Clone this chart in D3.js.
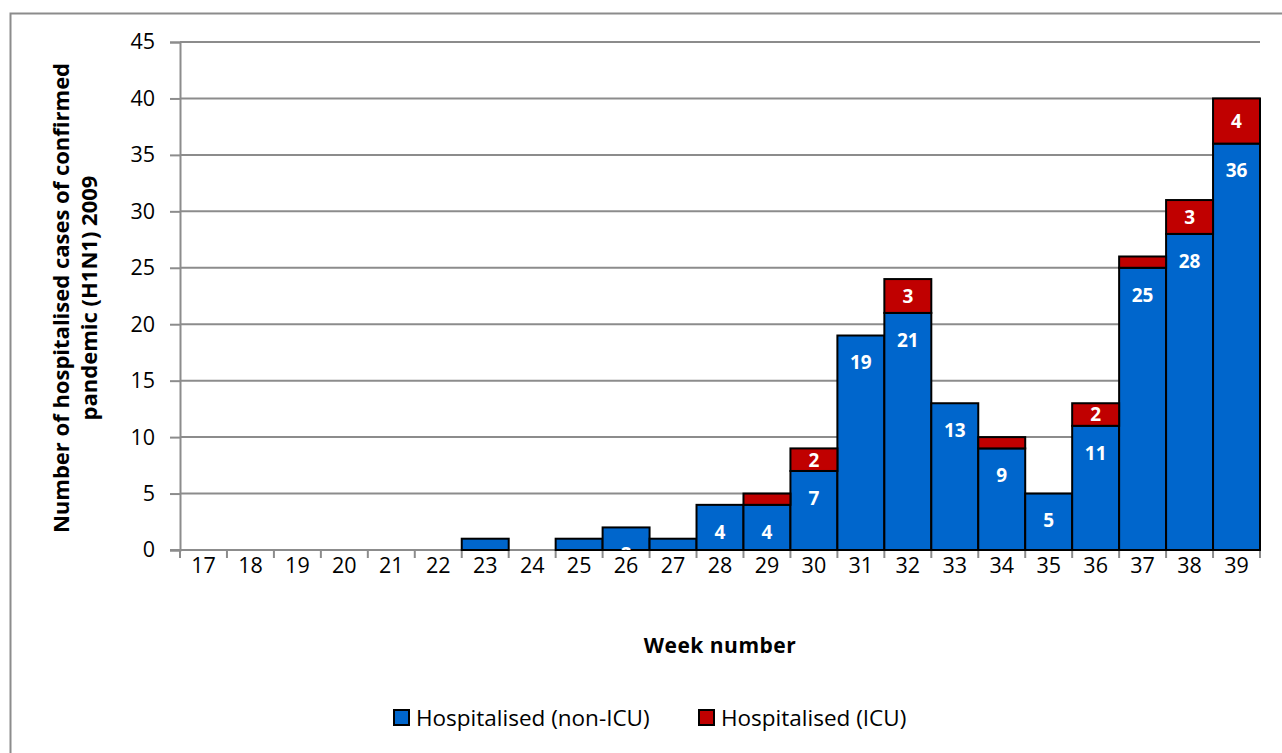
<!DOCTYPE html>
<html>
<head>
<meta charset="utf-8">
<script src="https://cdn.jsdelivr.net/npm/d3@7"></script>
<style>
  html, body { margin: 0; padding: 0; background: #fff; }
  svg { display: block; font-family: "Open Sans", Lato, sans-serif; }
</style>
</head>
<body>
<svg id="chart" width="1282" height="753"></svg>
<script>
// Weekly hospitalised cases of confirmed pandemic (H1N1) 2009
const weeks = ["17","18","19","20","21","22","23","24","25","26","27","28","29","30","31","32","33","34","35","36","37","38","39"];
const nonIcu = [0,0,0,0,0,0,1,0,1,2,1,4,4,7,19,21,13,9,5,11,25,28,36];
const icu    = [0,0,0,0,0,0,0,0,0,0,0,0,1,2,0,3,0,1,0,2,1,3,4];
const yTicks = [0,5,10,15,20,25,30,35,40,45];
const seriesNames = ["Hospitalised (non-ICU)", "Hospitalised (ICU)"];
const colors = ["#0066CC", "#C00000"];

const FONT = "'Open Sans', Lato, sans-serif";
const svg = d3.select("#chart");

// outer chart frame
svg.append("rect")
  .attr("x", 10.5).attr("y", 13.5)
  .attr("width", 1300).attr("height", 800)
  .attr("fill", "none").attr("stroke", "#8c8c8c").attr("stroke-width", 2);

const x = d3.scaleBand().domain(weeks).range([180, 1260]).padding(0);
const y = d3.scaleLinear().domain([0, 45]).range([550, 42]);

// clip for in-bar labels: nothing below the baseline
svg.append("defs").append("clipPath").attr("id", "plotClip")
  .append("rect").attr("x", 180).attr("y", 0).attr("width", 1080).attr("height", 550);

// gridlines
svg.append("g")
  .selectAll("line").data(yTicks.filter(d => d > 0)).join("line")
  .attr("x1", 180).attr("x2", 1260)
  .attr("y1", d => y(d)).attr("y2", d => y(d))
  .attr("stroke", "#8c8c8c").attr("stroke-width", 2);

// y axis
const yAxis = svg.append("g")
  .attr("transform", "translate(180,0)")
  .call(d3.axisLeft(y).tickValues(yTicks).tickSize(10).tickPadding(15));
yAxis.select(".domain").attr("stroke", "#8c8c8c").attr("stroke-width", 2);
yAxis.selectAll(".tick line").attr("stroke", "#8c8c8c").attr("stroke-width", 2);
yAxis.selectAll(".tick text").attr("font-size", 21.5).attr("fill", "#000")
  .attr("font-family", FONT);

// x axis: baseline, boundary ticks and week labels
const xAxis = svg.append("g")
  .attr("transform", "translate(0,550)")
  .call(d3.axisBottom(x).tickSize(0).tickPadding(8));
xAxis.select(".domain").attr("stroke", "#8c8c8c").attr("stroke-width", 2)
  .attr("d", "M170,0H1260");
xAxis.selectAll(".tick text").attr("font-size", 21.5).attr("fill", "#000")
  .attr("font-family", FONT);
svg.append("g").selectAll("line")
  .data(d3.range(weeks.length + 1)).join("line")
  .attr("x1", i => 180 + i * x.bandwidth())
  .attr("x2", i => 180 + i * x.bandwidth())
  .attr("y1", 550).attr("y2", 558)
  .attr("stroke", "#8c8c8c").attr("stroke-width", 2);

// stacked bars
const rows = weeks.map((w, i) => ({ week: w, nonIcu: nonIcu[i], icu: icu[i] }));
const stack = d3.stack().keys(["nonIcu", "icu"])(rows);

const barG = svg.append("g");
stack.forEach((layer, li) => {
  barG.append("g").selectAll("rect")
    .data(layer.filter(d => d[1] - d[0] > 0)).join("rect")
    .attr("x", d => x(d.data.week))
    .attr("width", x.bandwidth())
    .attr("y", d => y(d[1]))
    .attr("height", d => y(d[0]) - y(d[1]))
    .attr("fill", colors[li])
    .attr("stroke", "#000").attr("stroke-width", 2);
});

// value labels: non-ICU at inside end, ICU centred
const labelG = svg.append("g")
  .attr("clip-path", "url(#plotClip)")
  .attr("font-family", FONT).attr("font-weight", "bold")
  .attr("font-size", 19).attr("fill", "#fff").attr("text-anchor", "middle");
labelG.selectAll("text.n")
  .data(stack[0].filter(d => d.data.nonIcu >= 2)).join("text")
  .attr("class", "n")
  .attr("x", d => x(d.data.week) + x.bandwidth() / 2)
  .attr("y", d => y(d[1]) + 27)
  .attr("dy", "0.36em")
  .text(d => d.data.nonIcu);
labelG.selectAll("text.i")
  .data(stack[1].filter(d => d.data.icu >= 2)).join("text")
  .attr("class", "i")
  .attr("x", d => x(d.data.week) + x.bandwidth() / 2)
  .attr("y", d => (y(d[0]) + y(d[1])) / 2)
  .attr("dy", "0.36em")
  .text(d => d.data.icu);

// axis titles
svg.append("text")
  .attr("x", 720).attr("y", 653)
  .attr("text-anchor", "middle").attr("font-weight", "bold").attr("font-size", 21)
  .attr("letter-spacing", "0.5")
  .text("Week number");

const yt = svg.append("text")
  .attr("transform", "translate(76,298) rotate(-90)")
  .attr("text-anchor", "middle").attr("font-weight", "bold").attr("font-size", 22);
yt.append("tspan").attr("x", 0).attr("dy", -7).text("Number of hospitalised  cases of confirmed");
yt.append("tspan").attr("x", 0).attr("dy", 28).text("pandemic (H1N1) 2009");

// legend
const legendItems = [
  { name: seriesNames[0], color: colors[0], x: 393 },
  { name: seriesNames[1], color: colors[1], x: 698 }
];
const lg = svg.append("g");
legendItems.forEach(it => {
  lg.append("rect").attr("x", it.x + 1).attr("y", 710).attr("width", 15).attr("height", 15)
    .attr("fill", it.color).attr("stroke", "#000").attr("stroke-width", 2);
  lg.append("text").attr("x", it.x + 23).attr("y", 726)
    .attr("font-size", 22.5).text(it.name);
});
</script>
</body>
</html>
